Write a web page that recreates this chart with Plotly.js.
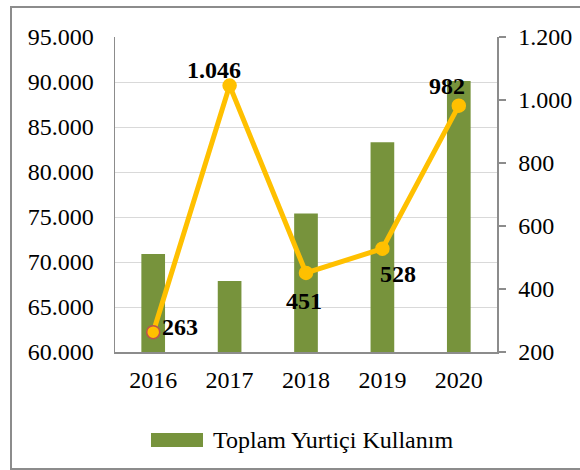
<!DOCTYPE html>
<html>
<head>
<meta charset="utf-8">
<script src="https://cdn.plot.ly/plotly-3.0.1.min.js"></script>
<style>html,body{margin:0;padding:0;background:#fff}#chart{width:580px;height:470px}</style>
</head>
<body>
<div id="chart"></div>
<script>
const years = [2016, 2017, 2018, 2019, 2020];
const barName = 'Toplam Yurtiçi Kullanım';
const barValues = [70900, 67900, 75400, 83300, 90100];
const lineName = 'Seri';
const lineValues = [263, 1046, 451, 528, 982];

function fmt(v) {
  return String(Math.round(v)).replace(/\B(?=(\d{3})+(?!\d))/g, '.');
}

const CW = 580, CH = 470;
const MG = {l: 115, r: 83, t: 37, b: 118};
const PW = CW - MG.l - MG.r, PH = CH - MG.t - MG.b;
const toPx = X => (X - MG.l) / PW;
const toPy = Y => (CH - MG.b - Y) / PH;

const FONT = 'Liberation Serif, Times New Roman, serif';
const GREEN = '#77933C';
const GOLD = '#FFC000';
const GRAY = '#8c8c8c';

const labelShift = [[27, 5], [-16, 16], [-2, -28], [16, -25], [-12, 20]];

const traces = [
  {
    type: 'bar', x: years, y: barValues, name: barName,
    marker: {color: GREEN}, width: 0.31, showlegend: false,
    hoverinfo: 'skip'
  },
  {
    type: 'scatter', mode: 'lines+markers', x: years, y: lineValues, name: lineName,
    yaxis: 'y2', showlegend: false, hoverinfo: 'skip',
    line: {color: GOLD, width: 5},
    marker: {color: GOLD, size: 13,
      line: {color: lineValues.map((v, i) => i === 0 ? '#C0504D' : GOLD), width: 1.5}}
  }
];

const annotations = lineValues.map((v, i) => ({
  x: years[i], y: v, xref: 'x', yref: 'y2', text: '<b>' + fmt(v) + '</b>',
  showarrow: false, xanchor: 'center', yanchor: 'middle',
  xshift: labelShift[i][0], yshift: labelShift[i][1],
  font: {family: FONT, size: 24, color: '#000'}
}));
annotations.push({
  x: toPx(211), y: toPy(440), xref: 'paper', yref: 'paper', text: barName,
  showarrow: false, xanchor: 'left', yanchor: 'middle',
  font: {family: FONT, size: 24, color: '#000'}
});

const shapes = [
  {type: 'rect', xref: 'paper', yref: 'paper', x0: toPx(151), x1: toPx(203), y0: toPy(447), y1: toPy(433),
   fillcolor: GREEN, line: {width: 0}},
  {type: 'rect', xref: 'paper', yref: 'paper', x0: toPx(11), x1: toPx(584), y0: toPy(469), y1: toPy(7),
   fillcolor: 'rgba(0,0,0,0)', line: {color: GRAY, width: 2}}
];

const layout = {
  width: CW, height: CH, margin: MG,
  paper_bgcolor: '#fff', plot_bgcolor: '#fff',
  separators: ',.',
  font: {family: FONT, size: 24, color: '#000'},
  showlegend: false,
  xaxis: {
    type: 'linear', range: [years[0] - 0.5, years[years.length - 1] + 0.5],
    tickmode: 'array', tickvals: years, ticktext: years.map(String),
    showgrid: false, zeroline: false,
    showline: true, linecolor: GRAY, linewidth: 1.5, ticks: '',
    ticklabelstandoff: 6,
    tickfont: {family: FONT, size: 24, color: '#000'}
  },
  yaxis: {
    range: [60000, 95000], dtick: 5000, tick0: 60000, tickformat: ',d',
    showgrid: true, gridcolor: '#d9d9d9', gridwidth: 1, zeroline: false,
    showline: true, linecolor: GRAY, linewidth: 1.5, ticks: '',
    ticklabelstandoff: 15,
    tickfont: {family: FONT, size: 24, color: '#000'}
  },
  yaxis2: {
    range: [200, 1200], dtick: 200, tick0: 200, tickformat: ',d',
    overlaying: 'y', side: 'right', showgrid: false, zeroline: false,
    showline: true, linecolor: GRAY, linewidth: 1.5,
    ticks: 'outside', ticklen: 7, tickcolor: GRAY, tickwidth: 1.5,
    ticklabelstandoff: 8,
    tickfont: {family: FONT, size: 24, color: '#000'}
  },
  annotations: annotations,
  shapes: shapes
};

Plotly.newPlot('chart', traces, layout, {staticPlot: true, displayModeBar: false});
</script>
</body>
</html>
